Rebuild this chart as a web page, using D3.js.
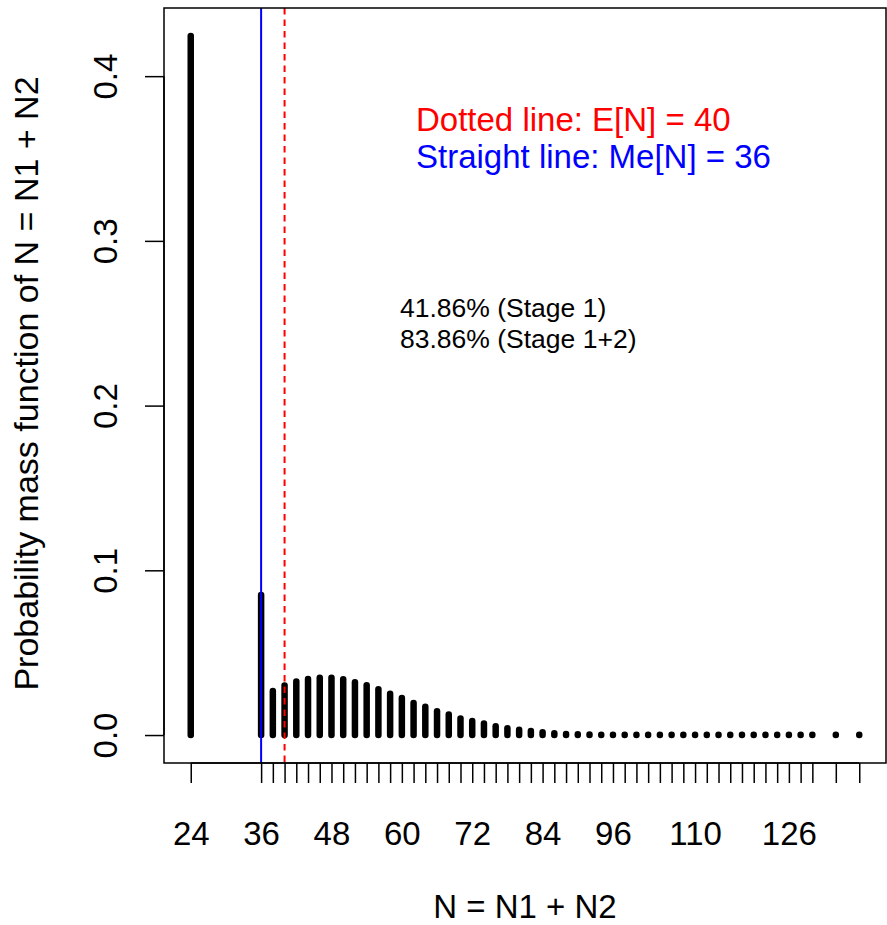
<!DOCTYPE html>
<html>
<head>
<meta charset="utf-8">
<script src="https://cdn.jsdelivr.net/npm/d3@7/dist/d3.min.js"></script>
<style>
  html, body { margin: 0; padding: 0; background: #fff; }
  text { font-family: "Liberation Sans", Arial, Helvetica, sans-serif; }
</style>
</head>
<body>
<svg id="chart" width="887" height="925"></svg>
<script>
// ---- data ----
const nValues = [24, 36, 38, 40, 42, 44, 46, 48, 50, 52, 54, 56, 58, 60, 62, 64, 66, 68, 70, 72,
  74, 76, 78, 80, 82, 84, 86, 88, 90, 92, 94, 96, 98, 100, 102, 104, 106, 108, 110, 112,
  114, 116, 118, 120, 122, 124, 126, 128, 130, 134, 138];
const pmf = [0.4244, 0.0850, 0.0268, 0.0300, 0.0325, 0.0340, 0.0348, 0.0348, 0.0338, 0.0321,
  0.0303, 0.0278, 0.0250, 0.0225, 0.0195, 0.0171, 0.0145, 0.0124, 0.0101, 0.0085,
  0.0070, 0.0053, 0.0041, 0.0032, 0.0025, 0.0017, 0.0011, 0.0007, 0.0005, 0.0003,
  0.0002, 0.0002, 0.0001, 0.0001, 0.0001, 0.0001, 0.0001, 0.0001, 0.0001, 0.0001,
  0.0001, 0.0001, 0.0001, 0.0001, 0.0001, 0.0001, 0.0001, 0.0001, 0.0001, 0.0001, 0.0001];
const xTickLabels = [24, 36, 48, 60, 72, 84, 96, 110, 126];
const yTicks = [0.0, 0.1, 0.2, 0.3, 0.4];
const meanN = 40;
const medianN = 36;
const legendLines = ["Dotted line: E[N] = 40", "Straight line: Me[N] = 36"];
const noteLines = ["41.86% (Stage 1)", "83.86% (Stage 1+2)"];
const xTitle = "N = N1 + N2";
const yTitle = "Probability mass function of N = N1 + N2";

// ---- layout ----
const pLeft = 164, pRight = 886, pTop = 8, pBottom = 763;
const svg = d3.select("#chart");
svg.append("rect").attr("width", 887).attr("height", 925).attr("fill", "#fff");

const xMin = d3.min(nValues), xMax = d3.max(nValues);
const xPad = (xMax - xMin) * 0.04;
const x = d3.scaleLinear().domain([xMin - xPad, xMax + xPad]).range([pLeft, pRight]);
const yMaxV = d3.max(pmf);
const yPad = yMaxV * 0.04;
const y = d3.scaleLinear().domain([-yPad, yMaxV + yPad]).range([pBottom, pTop]);

const data = nValues.map((n, i) => ({ n, p: pmf[i] }));

// bars (type = "h")
svg.append("g").selectAll("line").data(data).join("line")
  .attr("x1", d => x(d.n)).attr("x2", d => x(d.n))
  .attr("y1", y(0)).attr("y2", d => y(d.p))
  .attr("stroke", "#000").attr("stroke-width", 6.5).attr("stroke-linecap", "round");

// reference lines
svg.append("line")
  .attr("x1", x(medianN)).attr("x2", x(medianN)).attr("y1", pTop).attr("y2", pBottom)
  .attr("stroke", "#0000ff").attr("stroke-width", 2);
svg.append("line")
  .attr("x1", x(meanN)).attr("x2", x(meanN)).attr("y1", pTop).attr("y2", pBottom)
  .attr("stroke", "#ff0000").attr("stroke-width", 2).attr("stroke-dasharray", "6.5,5");

// box
svg.append("rect").attr("x", pLeft).attr("y", pTop)
  .attr("width", pRight - pLeft).attr("height", pBottom - pTop)
  .attr("fill", "none").attr("stroke", "#000").attr("stroke-width", 1.5);

// x axis
const xAxis = d3.axisBottom(x).tickValues(nValues).tickSize(20).tickPadding(0)
  .tickFormat(d => xTickLabels.includes(d) ? String(d) : "");
const gx = svg.append("g").attr("transform", `translate(0,${pBottom})`).call(xAxis);
gx.select(".domain").attr("d", `M${x(xMin)},0H${x(xMax)}`).attr("stroke-width", 1.5);
gx.selectAll(".tick line").attr("stroke-width", 1.5);
gx.selectAll(".tick text").attr("dy", null).attr("y", 82)
  .attr("font-size", 33).attr("fill", "#000").style("font-family", "Liberation Sans, Arial, sans-serif");

// y axis
const yAxis = d3.axisLeft(y).tickValues(yTicks).tickSize(19).tickFormat(d3.format(".1f"));
const gy = svg.append("g").attr("transform", `translate(${pLeft},0)`).call(yAxis);
gy.select(".domain").attr("d", `M0,${y(0)}V${y(0.4)}`).attr("stroke-width", 1.5);
gy.selectAll(".tick line").attr("stroke-width", 1.5);
gy.selectAll(".tick text")
  .attr("x", null).attr("dy", null)
  .attr("transform", "translate(-47,0) rotate(-90)")
  .attr("text-anchor", "middle").attr("font-size", 33).attr("fill", "#000")
  .style("font-family", "Liberation Sans, Arial, sans-serif");

// titles
svg.append("text").attr("x", (pLeft + pRight) / 2).attr("y", 918)
  .attr("text-anchor", "middle").attr("font-size", 33).text(xTitle);
svg.append("text").attr("transform", `translate(38,${(pTop + pBottom) / 2 - 2}) rotate(-90)`)
  .attr("text-anchor", "middle").attr("font-size", 34).text(yTitle);

// annotations
const legendColors = ["#ff0000", "#0000ff"];
svg.append("g").selectAll("text").data(legendLines).join("text")
  .attr("x", 416).attr("y", (d, i) => 131 + i * 37)
  .attr("font-size", 33).attr("fill", (d, i) => legendColors[i]).text(d => d);
svg.append("g").selectAll("text").data(noteLines).join("text")
  .attr("x", 400).attr("y", (d, i) => 317 + i * 31)
  .attr("font-size", 26.5).attr("fill", "#000").text(d => d);
</script>
</body>
</html>
